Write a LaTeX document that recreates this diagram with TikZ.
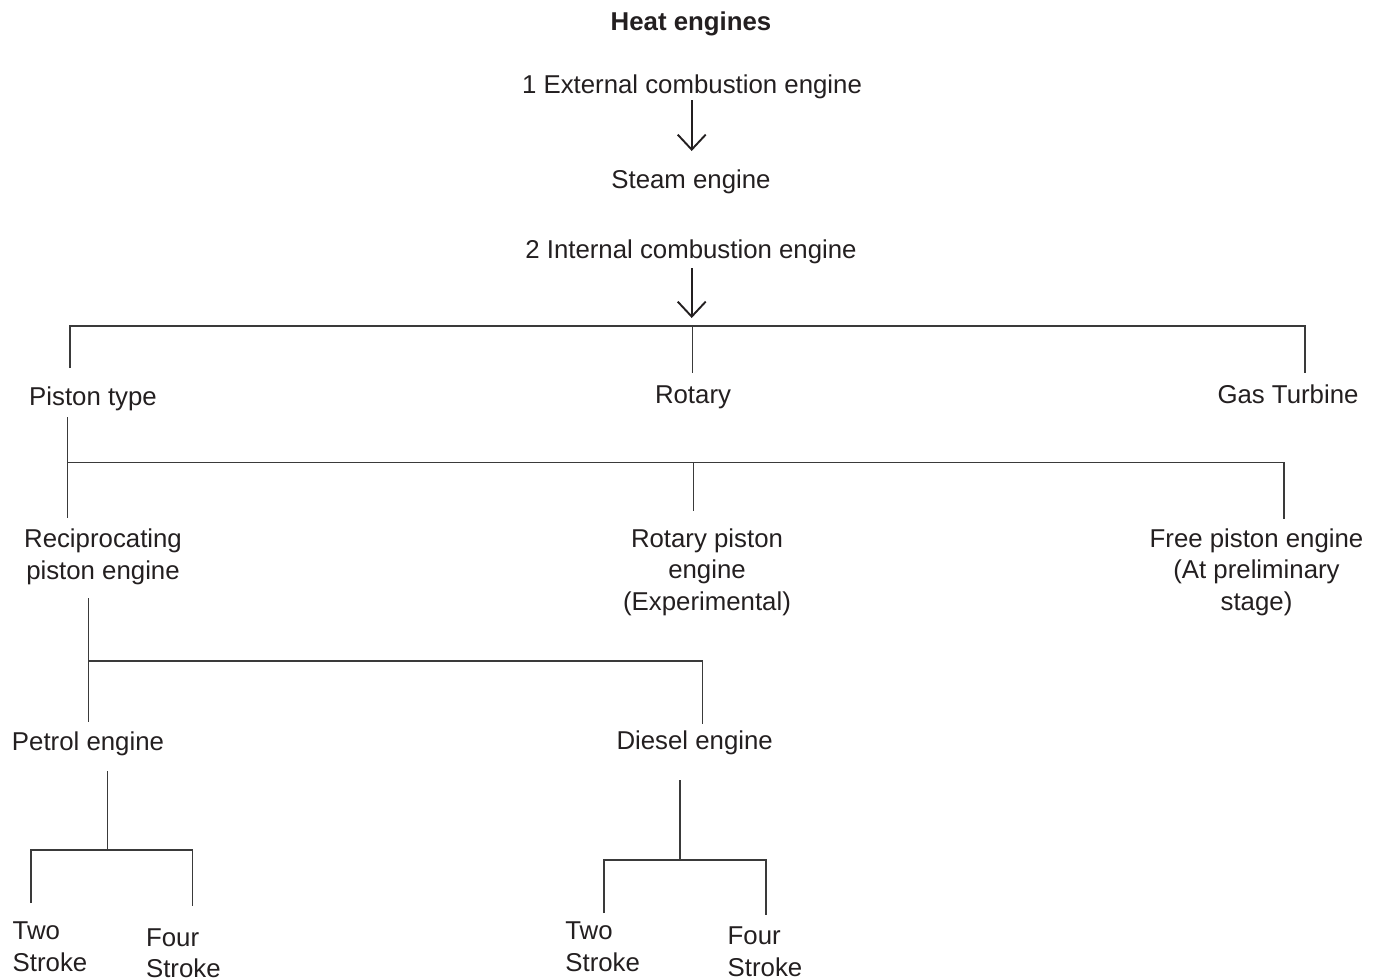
\documentclass[tikz,border=0pt]{standalone}
\usepackage{fontspec}
\setmainfont{Liberation Sans}
\usetikzlibrary{arrows.meta}
\definecolor{txtgray}{HTML}{231F20}
\definecolor{linegray}{HTML}{3A3A3A}

\begin{document}
\begin{tikzpicture}[
        x=0.5pt,y=-0.5pt,
        TextCfg/.style={text=txtgray,inner sep=0pt,font=\fontsize{12.9}{15.75}\selectfont},
        LineCfg/.style={draw=linegray,line width=0.65pt},
        ArrowCfg/.style={draw=txtgray,line width=0.95pt,-{Straight Barb[length=7.5pt,width=14pt]}}
    ]
    \useasboundingbox (0,0) rectangle (1377,980);

    %heading and the two main classes
    \node[TextCfg,anchor=base,font=\fontsize{12.9}{15.75}\selectfont\bfseries] (Title) at (691,30.5) {Heat engines};
    \node[TextCfg,anchor=base] (ECE) at (692,93) {1 External combustion engine};
    \node[TextCfg,anchor=base] (Steam) at (691,188) {Steam engine};
    \node[TextCfg,anchor=base] (ICE) at (691,258) {2 Internal combustion engine};
    \coordinate (ECEout) at (691.7,100);
    \coordinate (Steamin) at (691.7,151);
    \coordinate (ICEout) at (691.7,268);
    \coordinate (ICEin) at (691.7,318);
    \draw[ArrowCfg] (ECEout)--(Steamin);
    \draw[ArrowCfg] (ICEout)--(ICEin);

    %internal combustion engine types
    \node[TextCfg,anchor=base] (Piston) at (93,405) {Piston type};
    \node[TextCfg,anchor=base] (Rotary) at (693,403) {Rotary};
    \node[TextCfg,anchor=base] (Gas) at (1288,403) {Gas Turbine};
    \coordinate (BarA) at (692.3,326);
    \coordinate (PistonIn) at (70,368);
    \coordinate (RotaryIn) at (692.3,373);
    \coordinate (GasIn) at (1305,373);
    \draw[LineCfg] (PistonIn)--(PistonIn|-BarA)--(GasIn|-BarA)--(GasIn);
    \draw[LineCfg] (BarA)--(RotaryIn);

    %piston engines (base = last line)
    \node[TextCfg,anchor=base,align=center] (Recip) at (103,579) {Reciprocating\\piston engine};
    \node[TextCfg,anchor=base,align=center] (RotPiston) at (707,610) {Rotary piston\\engine\\(Experimental)};
    \node[TextCfg,anchor=base,align=center] (Free) at (1256.5,610) {Free piston engine\\(At preliminary\\stage)};
    \coordinate (PistonOut) at (67.3,417);
    \coordinate (RecipIn) at (67.3,518);
    \coordinate (BarB) at (693.3,462.3);
    \coordinate (RotPistonIn) at (693.3,511);
    \coordinate (FreeIn) at (1284,519);
    \draw[LineCfg] (PistonOut)--(RecipIn);
    \draw[LineCfg] (PistonOut|-BarB)--(FreeIn|-BarB)--(FreeIn);
    \draw[LineCfg] (BarB)--(RotPistonIn);

    %reciprocating engines
    \node[TextCfg,anchor=base] (Petrol) at (88,750) {Petrol engine};
    \node[TextCfg,anchor=base] (Diesel) at (694.7,749) {Diesel engine};
    \coordinate (RecipOut) at (88.7,598);
    \coordinate (PetrolIn) at (88.7,722);
    \coordinate (BarC) at (88.7,661);
    \coordinate (DieselIn) at (702.7,724);
    \draw[LineCfg] (RecipOut)--(PetrolIn);
    \draw[LineCfg] (BarC)--(DieselIn|-BarC)--(DieselIn);

    %petrol engine strokes
    \node[TextCfg,anchor=base west,align=left] (PetrolTwo) at (12.3,971) {Two\\Stroke};
    \node[TextCfg,anchor=base west,align=left] (PetrolFour) at (145.7,977.5) {Four\\Stroke};
    \coordinate (PetrolOut) at (107.3,771);
    \coordinate (BarD) at (107.3,850);
    \coordinate (PetrolTwoIn) at (31,903);
    \coordinate (PetrolFourIn) at (192.7,906);
    \draw[LineCfg] (PetrolOut)--(BarD);
    \draw[LineCfg] (PetrolTwoIn)--(PetrolTwoIn|-BarD)--(PetrolFourIn|-BarD)--(PetrolFourIn);

    %diesel engine strokes
    \node[TextCfg,anchor=base west,align=left] (DieselTwo) at (565,971) {Two\\Stroke};
    \node[TextCfg,anchor=base west,align=left] (DieselFour) at (727.3,976) {Four\\Stroke};
    \coordinate (DieselOut) at (680,780);
    \coordinate (BarE) at (680,860);
    \coordinate (DieselTwoIn) at (604,913);
    \coordinate (DieselFourIn) at (766,915);
    \draw[LineCfg] (DieselOut)--(BarE);
    \draw[LineCfg] (DieselTwoIn)--(DieselTwoIn|-BarE)--(DieselFourIn|-BarE)--(DieselFourIn);

\end{tikzpicture}
\end{document}
